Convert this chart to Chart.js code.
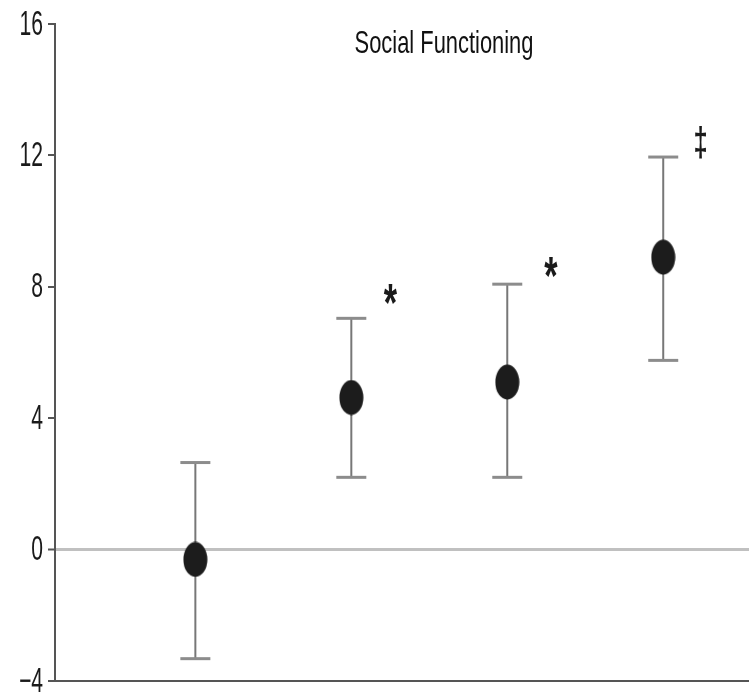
<!DOCTYPE html>
<html>
<head>
<meta charset="utf-8">
<script src="https://cdn.jsdelivr.net/npm/chart.js@4.4.1/dist/chart.umd.min.js"></script>
<style>
  html, body { margin: 0; padding: 0; background: #fff; }
  #wrap { width: 749px; height: 696px; }
</style>
</head>
<body>
<div id="wrap"><canvas id="c" width="749" height="696"></canvas></div>
<script>
// ---- data ----
const titleText = "Social Functioning";
const groups = [1, 2, 3, 4];
const means = [-0.3, 4.63, 5.1, 8.9];
const upper = [2.65, 7.04, 8.08, 11.95];
const lower = [-3.32, 2.2, 2.2, 5.76];
const sigLabels = ["", "*", "*", "\u2021"];
const sigX = [null, 2.25, 3.28, 4.24];
const sigY = [null, 7.83, 8.66, 12.4];
const yTicks = [-4, 0, 4, 8, 12, 16];
const yTickLabels = ["\u22124", "0", "4", "8", "12", "16"];

const FONT = "'Liberation Sans', Arial, sans-serif";

// ellipse marker
function makeEllipse(w, h) {
  const cv = document.createElement('canvas');
  cv.width = w; cv.height = h;
  const g = cv.getContext('2d');
  g.fillStyle = '#1c1c1c';
  g.beginPath();
  g.ellipse(w / 2, h / 2, w / 2 - 0.5, h / 2 - 0.5, 0, 0, Math.PI * 2);
  g.fill();
  return cv;
}
const marker = makeEllipse(25, 36);

// draw text centred (by ink) at x,y with stretch sx, sy
function inkText(ctx, txt, x, y, font, sx, sy) {
  ctx.save();
  ctx.font = font;
  ctx.textAlign = 'center';
  ctx.textBaseline = 'alphabetic';
  const m = ctx.measureText(txt);
  const c = (m.actualBoundingBoxDescent - m.actualBoundingBoxAscent) / 2;
  ctx.translate(x, y);
  ctx.scale(sx, sy);
  ctx.fillText(txt, 0, -c);
  ctx.restore();
}

const errorBars = {
  id: 'errorBars',
  beforeDatasetsDraw(chart) {
    const ctx = chart.ctx, xs = chart.scales.x, ys = chart.scales.y;
    ctx.save();
    groups.forEach((g, i) => {
      const x = xs.getPixelForValue(g);
      const yt = ys.getPixelForValue(upper[i]);
      const yb = ys.getPixelForValue(lower[i]);
      ctx.strokeStyle = '#777';
      ctx.lineWidth = 2;
      ctx.beginPath(); ctx.moveTo(x, yt); ctx.lineTo(x, yb); ctx.stroke();
      ctx.strokeStyle = '#8c8c8c';
      ctx.lineWidth = 3;
      ctx.beginPath(); ctx.moveTo(x - 15, yt); ctx.lineTo(x + 15, yt); ctx.stroke();
      ctx.beginPath(); ctx.moveTo(x - 15, yb); ctx.lineTo(x + 15, yb); ctx.stroke();
    });
    ctx.restore();
  },
  afterDraw(chart) {
    const ctx = chart.ctx, xs = chart.scales.x, ys = chart.scales.y;
    ctx.save();
    ctx.fillStyle = '#1a1a1a';
    // y tick labels (positions from the library's y scale)
    yTicks.forEach((v, i) => {
      const y = ys.getPixelForValue(v);
      ctx.save();
      ctx.font = "32px " + FONT;
      ctx.textAlign = 'right';
      ctx.textBaseline = 'middle';
      ctx.fillStyle = '#1a1a1a';
      ctx.translate(43, y);
      ctx.scale(0.66, 1.08);
      ctx.fillText(yTickLabels[i], 0, 1);
      ctx.restore();
    });
    // significance markers
    groups.forEach((g, i) => {
      if (!sigLabels[i]) return;
      const x = xs.getPixelForValue(sigX[i]);
      const y = ys.getPixelForValue(sigY[i]);
      if (sigLabels[i] === '*') {
        inkText(ctx, '*', x, y, "bold 36px " + FONT, 0.95, 1.5);
      } else {
        inkText(ctx, sigLabels[i], x, y, "bold 30px " + FONT, 0.85, 1.35);
      }
    });
    // title
    ctx.save();
    ctx.fillStyle = '#111';
    inkText(ctx, titleText, 444, 45, "30px " + FONT, 0.73, 1.05);
    ctx.restore();
    ctx.restore();
  }
};

new Chart(document.getElementById('c'), {
  type: 'scatter',
  data: {
    datasets: [{
      data: groups.map((g, i) => ({ x: g, y: means[i] })),
      pointStyle: marker,
      pointRadius: 12,
      pointHoverRadius: 12,
      showLine: false,
      clip: false
    }]
  },
  options: {
    responsive: false,
    devicePixelRatio: 1,
    animation: false,
    events: [],
    layout: { autoPadding: false, padding: { top: 24, bottom: 15, left: 0, right: 0 } },
    plugins: { legend: { display: false }, tooltip: { enabled: false }, title: { display: false } },
    scales: {
      x: {
        type: 'linear',
        min: 0.1, max: 4.55,
        ticks: { display: false },
        grid: { display: false, drawTicks: false },
        border: { display: true, color: '#555', width: 2 },
        afterFit(s) { s.height = 0; s.paddingLeft = 0; s.paddingRight = 0; s.paddingTop = 0; s.paddingBottom = 0; }
      },
      y: {
        type: 'linear',
        min: -4, max: 16,
        afterBuildTicks(s) { s.ticks = yTicks.map(v => ({ value: v })); },
        ticks: { display: false },
        grid: {
          drawOnChartArea: true,
          drawTicks: true,
          tickLength: 7,
          tickWidth: 2,
          tickColor: '#555',
          color: (c) => (c.tick && c.tick.value === 0) ? '#c0c0c0' : 'rgba(0,0,0,0)',
          lineWidth: (c) => (c.tick && c.tick.value === 0) ? 3 : 0
        },
        border: { display: true, color: '#555', width: 2 },
        afterFit(s) { s.width = 55; s.paddingTop = 0; s.paddingBottom = 0; s.paddingLeft = 0; s.paddingRight = 0; }
      }
    }
  },
  plugins: [errorBars]
});
</script>
</body>
</html>
